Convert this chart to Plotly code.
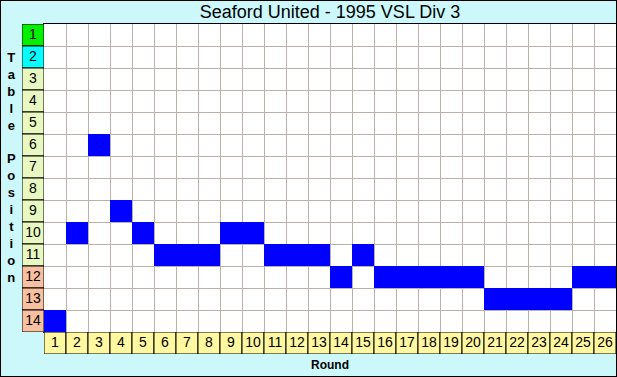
import plotly.graph_objects as go

W, H = 617, 377

title_text = "Seaford United - 1995 VSL Div 3"
rounds = list(range(1, 27))
positions_by_round = [14, 10, 6, 9, 10, 11, 11, 11, 10, 10, 11, 11, 11, 12,
                      11, 12, 12, 12, 12, 12, 13, 13, 13, 13, 12, 12]
table_positions = list(range(1, 15))
position_colors = ["#00f000", "#00ffff"] + ["#e8f8c0"] * 9 + ["#f8c0a0"] * 3
round_label_color = "#fff8a0"
bg_color = "#ccf8fc"
grid_color = "#bab2aa"
cell_blue = "#0000ff"
font_family = "Liberation Sans, Arial, sans-serif"

def px_x(p):
    return p / W

def px_y(p):
    return 1 - p / H

fig = go.Figure()

# blue position cells
fig.add_trace(go.Bar(
    x=rounds, y=[1] * len(rounds), base=[p - 0.5 for p in positions_by_round],
    width=1, marker=dict(color=cell_blue, line=dict(width=0)),
    xaxis="x", yaxis="y", hoverinfo="skip", showlegend=False,
))

# position label column
fig.add_trace(go.Bar(
    y=table_positions, x=[1] * len(table_positions), base=0, width=1,
    orientation="h",
    marker=dict(color=position_colors, line=dict(color="black", width=1)),
    cliponaxis=False, xaxis="x2", yaxis="y", hoverinfo="skip", showlegend=False,
))
fig.add_trace(go.Scatter(
    x=[0.5] * len(table_positions), y=table_positions, mode="text",
    text=[str(p) for p in table_positions], textposition="middle center",
    textfont=dict(size=14, color="black", family=font_family),
    cliponaxis=False, xaxis="x2", yaxis="y", hoverinfo="skip", showlegend=False,
))

# round label row
fig.add_trace(go.Bar(
    x=rounds, y=[1] * len(rounds), base=0, width=1,
    marker=dict(color=round_label_color, line=dict(color="black", width=1)),
    cliponaxis=False, xaxis="x", yaxis="y3", hoverinfo="skip", showlegend=False,
))
fig.add_trace(go.Scatter(
    x=rounds, y=[0.5] * len(rounds), mode="text",
    text=[str(r) for r in rounds], textposition="middle center",
    textfont=dict(size=14, color="black", family=font_family),
    cliponaxis=False, xaxis="x", yaxis="y3", hoverinfo="skip", showlegend=False,
))

fig.update_layout(
    width=W, height=H,
    margin=dict(l=0, r=0, t=0, b=0),
    paper_bgcolor=bg_color,
    plot_bgcolor="white",
    barmode="overlay",
    font=dict(family=font_family, color="black"),
    title=dict(text=title_text, x=330 / W, xanchor="center", y=px_y(12), yanchor="middle",
               font=dict(size=18, color="black", family=font_family)),
    xaxis=dict(domain=[px_x(44), px_x(616)], range=[0.5, 26.5], anchor="y",
               tickvals=[i + 0.5 for i in range(0, 27)], showticklabels=False,
               showgrid=True, gridcolor=grid_color, gridwidth=1, zeroline=False,
               showline=True, linecolor="black", linewidth=1, mirror=True, ticks=""),
    yaxis=dict(domain=[px_y(332), px_y(24)], range=[14.5, 0.5], anchor="x",
               tickvals=[i + 0.5 for i in range(0, 15)], showticklabels=False,
               showgrid=True, gridcolor=grid_color, gridwidth=1, zeroline=False,
               showline=True, linecolor="black", linewidth=1, mirror=True, ticks=""),
    xaxis2=dict(domain=[px_x(22), px_x(44)], range=[0, 1], anchor="y",
                showticklabels=False, showgrid=False, zeroline=False, ticks=""),
    yaxis3=dict(domain=[px_y(354), px_y(332)], range=[0, 1], anchor="x",
                showticklabels=False, showgrid=False, zeroline=False, ticks=""),
    annotations=[
        dict(text="<b>" + "<br>".join(list("Table") + [" "] + list("Position")) + "</b>",
             xref="paper", yref="paper", x=px_x(11), y=px_y(167),
             xanchor="center", yanchor="middle", showarrow=False,
             font=dict(size=13, color="black", family=font_family)),
        dict(text="<b>Round</b>", xref="paper", yref="paper",
             x=330 / W, y=px_y(365), xanchor="center", yanchor="middle",
             showarrow=False, font=dict(size=12, color="black", family=font_family)),
    ],
    shapes=[
        dict(type="rect", xref="paper", yref="paper", x0=0, y0=0, x1=1, y1=1,
             line=dict(color="black", width=2), fillcolor="rgba(0,0,0,0)", layer="above"),
    ],
)

fig.write_html(
    "out.html",
    config={"displayModeBar": False},
    post_script="document.body.style.margin='0';document.body.style.overflow='hidden';",
)
